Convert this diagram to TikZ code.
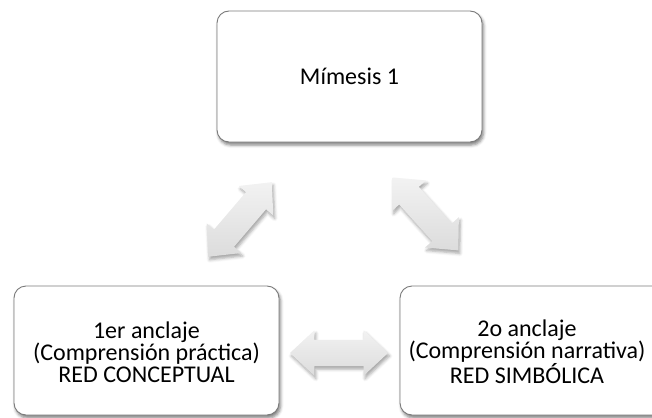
\documentclass[tikz,border=0pt]{standalone}
\usepackage{fontspec}
\setmainfont{Carlito}
\usetikzlibrary{shapes.arrows,shadows.blur}

\definecolor{boxline}{HTML}{7A7A7A}
\definecolor{arrowlight}{HTML}{F2F2F2}
\definecolor{arrowdark}{HTML}{DCDCDC}

\tikzset{
  box/.style={draw=boxline, line width=0.9pt, fill=white, rounded corners=12pt,
    minimum width=265pt, minimum height=129pt, inner sep=0pt,
    blur shadow={shadow xshift=1.5pt, shadow yshift=-3pt,
      shadow opacity=50, shadow blur radius=3pt}},
  lbl/.style={font=\fontsize{24}{22}\selectfont, align=center, inner sep=0pt},
  barrow/.style={shape=double arrow, minimum height=98pt, inner xsep=0pt,
    inner ysep=13pt, double arrow head extend=9.5pt, double arrow tip angle=86,
    draw=none, top color=arrowlight, bottom color=arrowdark,
    blur shadow={shadow xshift=1.5pt, shadow yshift=-3pt,
      shadow opacity=35, shadow blur radius=3pt}}
}

\begin{document}
\begin{tikzpicture}[x=1pt, y=-1pt]
  \useasboundingbox (0,0) rectangle (652,417);
  \clip (0,0) rectangle (652,417);

  % the three stages
  \node[box, minimum height=131pt, lbl] (mimesis) at (349.5,76.5) {Mímesis 1};
  \node[box] (anclaje1) at (146.5,350.5) {};
  \node[lbl] (texto1) at (146.5,352) {1er anclaje\\(Comprensión práctica)\\RED CONCEPTUAL};
  \node[box] (anclaje2) at (532.5,350.5) {};
  \node[lbl] (texto2) at (527,352) {2o anclaje\\(Comprensión narrativa)\\RED SIMBÓLICA};

  % two-way block arrows between the stages
  \node[barrow, rotate=49.5] (flechaIzq) at (240,219.5) {};
  \node[barrow, rotate=-48] (flechaDer) at (425.5,214) {};
  \node[barrow] (flechaAbajo) at (339,353) {};
\end{tikzpicture}
\end{document}
